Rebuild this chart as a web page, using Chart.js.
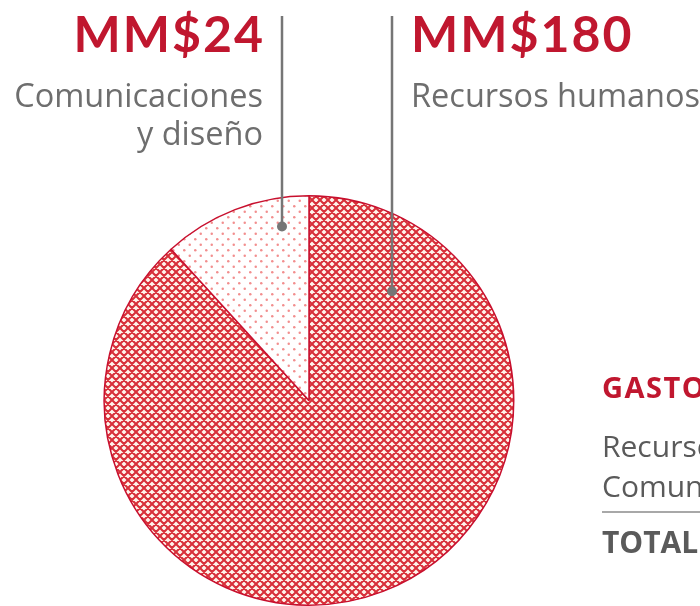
<!DOCTYPE html>
<html>
<head>
<meta charset="utf-8">
<script src="https://cdn.jsdelivr.net/npm/chart.js@4"></script>
<style>
  html, body { margin: 0; padding: 0; background: #fff; }
  #wrap { width: 700px; height: 606px; position: relative; }
</style>
</head>
<body>
<div id="wrap"><canvas id="chart_Gastos" width="700" height="606"></canvas></div>
<script>
// datos del gráfico (MM$)
var categorias = ["Recursos humanos", "Comunicaciones y diseño"];
var etiquetas = [["Recursos humanos"], ["Comunicaciones", "y diseño"]];
var valores = [180, 24];
var tablaTitulo = "GASTOS MM$";
var tablaTotal = "TOTAL";

var rojo = "#c0172f";
var gris = "#6e6e6e";

function patronCruzado() {
  var c = document.createElement("canvas");
  c.width = 8; c.height = 8;
  var x = c.getContext("2d");
  x.fillStyle = "#fff4ec";
  x.fillRect(0, 0, 8, 8);
  x.strokeStyle = "#d8303a";
  x.lineWidth = 2.1;
  x.beginPath();
  for (var k = -8; k <= 16; k += 8) {
    x.moveTo(k, 0); x.lineTo(k + 8, 8);
    x.moveTo(k + 8, 0); x.lineTo(k, 8);
  }
  x.stroke();
  return x.createPattern(c, "repeat");
}

function patronPuntos() {
  var c = document.createElement("canvas");
  c.width = 11; c.height = 11;
  var x = c.getContext("2d");
  x.fillStyle = "#ffffff";
  x.fillRect(0, 0, 11, 11);
  x.fillStyle = "#f28e8e";
  [[2.75, 2.75], [8.25, 8.25]].forEach(function (p) {
    x.beginPath(); x.arc(p[0], p[1], 1.25, 0, Math.PI * 2); x.fill();
  });
  return x.createPattern(c, "repeat");
}

// callouts: x de la línea guía y fracción del radio para el punto
var guiaX = [392, 282];
var guiaR = [0.67, 0.86];

var callouts = {
  id: "callouts",
  afterDraw: function (chart) {
    var ctx = chart.ctx;
    var arcs = chart.getDatasetMeta(0).data;
    ctx.save();
    arcs.forEach(function (arc, i) {
      var cx = arc.x, cy = arc.y, r = arc.outerRadius * guiaR[i];
      var gx = guiaX[i];
      var gy = cy - Math.sqrt(r * r - (gx - cx) * (gx - cx));
      ctx.strokeStyle = "#767676";
      ctx.lineWidth = 2.5;
      ctx.beginPath(); ctx.moveTo(gx, 16); ctx.lineTo(gx, gy); ctx.stroke();
      ctx.fillStyle = "#767676";
      ctx.beginPath(); ctx.arc(gx, gy, 5, 0, Math.PI * 2); ctx.fill();

      var derecha = gx < cx;
      var tx = derecha ? gx - 19 : gx + 19;
      ctx.textAlign = derecha ? "right" : "left";
      ctx.textBaseline = "alphabetic";
      ctx.fillStyle = rojo;
      ctx.font = "bold 50px Lato";
      ctx.letterSpacing = "2px";
      ctx.fillText("MM$" + valores[i], derecha ? tx + 2 : tx, 52);
      ctx.letterSpacing = "0px";
      ctx.fillStyle = gris;
      ctx.font = "32.5px 'Open Sans'";
      etiquetas[i].forEach(function (t, j) {
        ctx.fillText(t, tx, 107 + j * 38);
      });
    });

    // tabla a la derecha (cortada)
    var x0 = 602;
    ctx.textAlign = "left";
    ctx.fillStyle = rojo;
    ctx.font = "bold 29px 'Open Sans'";
    ctx.letterSpacing = "1.5px";
    ctx.fillText(tablaTitulo, x0, 398);
    ctx.letterSpacing = "0px";
    ctx.fillStyle = "#5a5a5a";
    ctx.font = "30px 'Open Sans'";
    ctx.fillText(categorias[0] + "  " + valores[0], x0, 457);
    ctx.fillText(categorias[1] + "  " + valores[1], x0, 497);
    ctx.strokeStyle = "#a8a8a8";
    ctx.lineWidth = 2;
    ctx.beginPath(); ctx.moveTo(x0, 512); ctx.lineTo(700, 512); ctx.stroke();
    ctx.font = "bold 30px 'Open Sans'";
    ctx.fillText(tablaTotal + "  " + (valores[0] + valores[1]), x0, 553);
    ctx.restore();
  }
};

new Chart(document.getElementById("chart_Gastos"), {
  type: "pie",
  data: {
    labels: categorias,
    datasets: [{
      data: valores,
      backgroundColor: [patronCruzado(), patronPuntos()],
      borderColor: "#c8102e",
      borderWidth: 1.5
    }]
  },
  options: {
    responsive: false,
    animation: false,
    events: [],
    layout: { padding: { left: 103, right: 185, top: 195, bottom: 0 } },
    plugins: {
      legend: { display: false },
      tooltip: { enabled: false }
    }
  },
  plugins: [callouts]
});
</script>
</body>
</html>
